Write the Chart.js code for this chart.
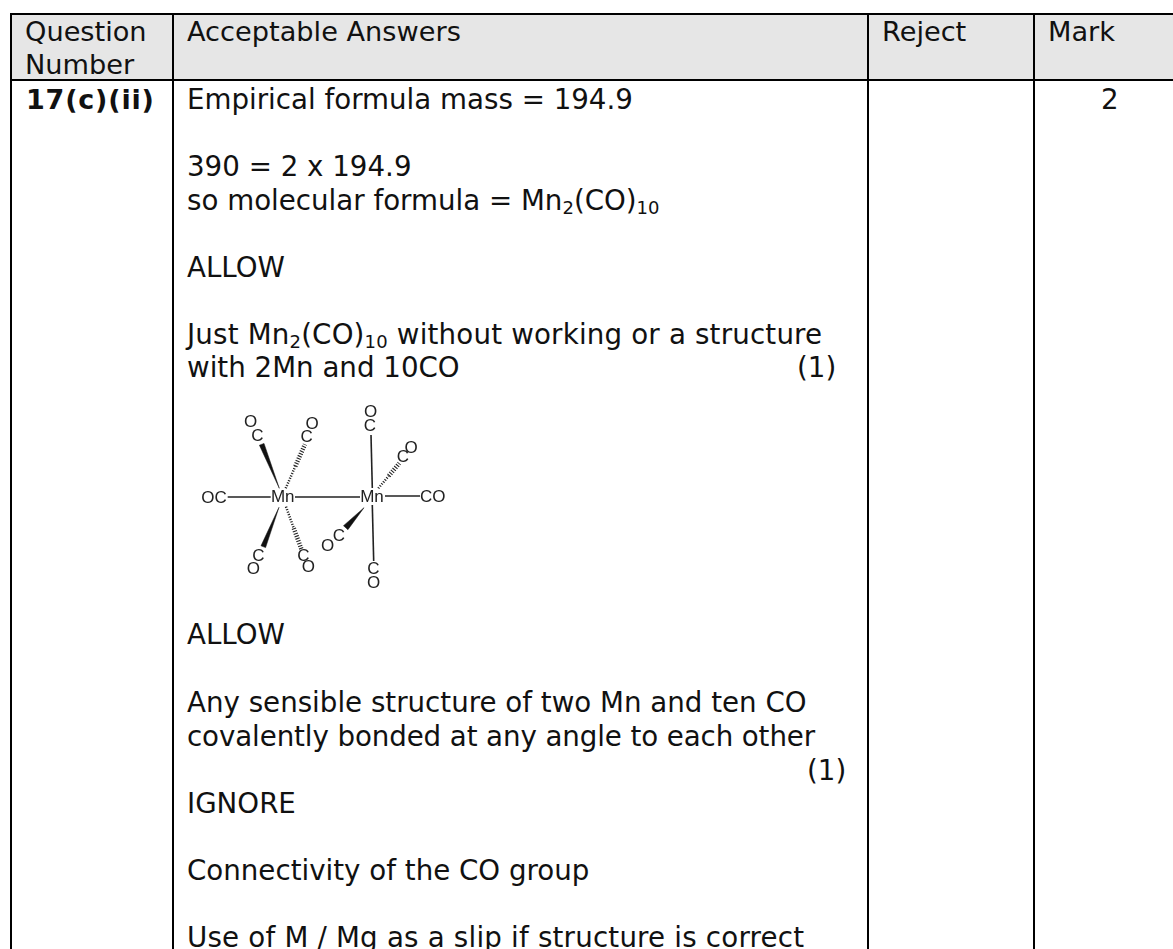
<!DOCTYPE html>
<html>
<head>
<meta charset="utf-8">
<script src="https://cdn.jsdelivr.net/npm/chart.js@4"></script>
<style>
  html, body { margin: 0; padding: 0; background: #fff; }
  body { position: relative; width: 1173px; height: 949px; overflow: hidden; font-family: "DejaVu Sans", sans-serif; color: #111; }
  .rule { position: absolute; background: #000; }
  .head { position: absolute; left: 12px; top: 14px; width: 1161px; height: 66px; background: #e6e6e6; }
  .t { position: absolute; font-size: 27.7px; line-height: 28px; white-space: pre; }
  .t sub { font-size: 18px; line-height: 0; vertical-align: -4px; }
  .h { font-size: 27.2px; }
  .b { font-size: 27px; font-weight: bold; letter-spacing: 0.8px; }
  #mol { position: absolute; left: 160px; top: 395px; width: 310px; height: 200px; filter: blur(0.35px); }
</style>
</head>
<body>
<div class="head"></div>
<div class="rule" style="left:10px;top:13px;width:1163px;height:2px"></div>
<div class="rule" style="left:10px;top:79px;width:1163px;height:2px"></div>
<div class="rule" style="left:10px;top:13px;width:2px;height:936px"></div>
<div class="rule" style="left:172px;top:13px;width:2px;height:936px"></div>
<div class="rule" style="left:867px;top:13px;width:2px;height:936px"></div>
<div class="rule" style="left:1033px;top:13px;width:2px;height:936px"></div>

<div class="t h" style="left:25px;top:18px">Question</div>
<div class="t h" style="left:25px;top:51px">Number</div>
<div class="t h" style="left:187px;top:18px">Acceptable Answers</div>
<div class="t h" style="left:882px;top:18px">Reject</div>
<div class="t h" style="left:1048px;top:18px">Mark</div>

<div class="t b" style="left:26px;top:86px">17(c)(ii)</div>
<div class="t" style="left:1101px;top:86px">2</div>
<div class="t" style="left:187px;top:86px">Empirical formula mass = 194.9</div>
<div class="t" style="left:187px;top:153px">390 = 2 x 194.9</div>
<div class="t" style="left:187px;top:187px">so molecular formula = Mn<sub>2</sub>(CO)<sub>10</sub></div>
<div class="t" style="left:187px;top:254px">ALLOW</div>
<div class="t" style="left:187px;top:321px;letter-spacing:0.18px">Just Mn<sub>2</sub>(CO)<sub>10</sub> without working or a structure</div>
<div class="t" style="left:187px;top:354px">with 2Mn and 10CO</div>
<div class="t" style="left:797px;top:354px">(1)</div>
<div class="t" style="left:187px;top:621px">ALLOW</div>
<div class="t" style="left:187px;top:689px">Any sensible structure of two Mn and ten CO</div>
<div class="t" style="left:187px;top:723px;letter-spacing:-0.1px">covalently bonded at any angle to each other</div>
<div class="t" style="left:807px;top:757px">(1)</div>
<div class="t" style="left:187px;top:790px">IGNORE</div>
<div class="t" style="left:187px;top:857px">Connectivity of the CO group</div>
<div class="t" style="left:187px;top:924px;letter-spacing:0.2px">Use of M / Mg as a slip if structure is correct</div>

<canvas id="mol" width="310" height="200"></canvas>

<script>
// plain bonds, [x, y]
const plainBonds = [
  [[227.7, 497], [270.7, 497]],
  [[295, 497], [360, 497]],
  [[385, 496], [420, 496]],
  [[371, 435], [372.3, 488]],
  [[372.3, 505], [373.7, 561]]
];
// wedge bonds: tip, wide corner, wide corner
const wedgeBonds = [
  [[279.3, 488.3], [264, 443.4], [259.4, 445.2]],
  [[279, 507.3], [265.6, 547.6], [261, 545.8]],
  [[364, 507.7], [347.9, 529.7], [343.5, 525.7]]
];
// hashed bonds: start, middle, end
const hashBonds = [
  [[285.7, 488.3], [295.3, 466.3], [305, 444.3]],
  [[286, 506.7], [293.8, 528.3], [301.7, 550]],
  [[378.3, 488.3], [388.8, 475.8], [399.3, 463.3]]
];
const atomLabels = ['Mn', 'Mn', 'OC', 'CO', 'C', 'O', 'C', 'O', 'C', 'O', 'C', 'O', 'C', 'O', 'C', 'O', 'C', 'O', 'C', 'O'];
const atomX = [282.7, 372, 214, 432.7, 257.3, 250.7, 306.7, 312, 258.3, 253.3, 303.3, 308.3, 370, 370.7, 373.3, 373.7, 403, 411, 339, 327.7];
const atomY = [497, 497, 497.7, 497, 435.7, 421.7, 436.7, 423.7, 555.7, 569.3, 555.7, 567.3, 426, 411.7, 569, 582.7, 457, 448, 536, 545.7];

const toPoints = pts => pts.map(p => ({ x: p[0], y: p[1] }));
const ink = '#222';

const datasets = [];
plainBonds.forEach(b => datasets.push({
  data: toPoints(b), borderColor: ink, borderWidth: 1.6, pointRadius: 0, showLine: true
}));
wedgeBonds.forEach(b => datasets.push({
  data: toPoints(b.concat([b[0]])), borderColor: '#111', backgroundColor: '#111',
  borderWidth: 0.5, pointRadius: 0, showLine: true, fill: 'shape'
}));
hashBonds.forEach(b => datasets.push({
  data: toPoints(b), borderColor: ink, pointRadius: 0, showLine: true, borderWidth: 3,
  borderDash: [1.1, 1.5], borderCapStyle: 'butt',
  segment: { borderWidth: ctx => ctx.p0DataIndex === 0 ? 2.5 : 4.5 }
}));

const atomLabelPlugin = {
  id: 'atomLabels',
  afterDatasetsDraw(chart) {
    const { ctx, scales } = chart;
    ctx.save();
    ctx.font = '17px "Liberation Sans", Arial, sans-serif';
    ctx.fillStyle = ink;
    ctx.textAlign = 'center';
    ctx.textBaseline = 'middle';
    atomLabels.forEach((label, i) => {
      ctx.fillText(label, scales.x.getPixelForValue(atomX[i]), scales.y.getPixelForValue(atomY[i]) + 0.5);
    });
    ctx.restore();
  }
};

new Chart(document.getElementById('mol'), {
  type: 'scatter',
  data: { datasets },
  options: {
    responsive: false,
    animation: false,
    layout: { padding: 0 },
    plugins: { legend: { display: false }, tooltip: { enabled: false }, filler: { propagate: false } },
    scales: {
      x: { type: 'linear', min: 160, max: 470, display: false },
      y: { type: 'linear', min: 395, max: 595, reverse: true, display: false }
    }
  },
  plugins: [atomLabelPlugin]
});
</script>
</body>
</html>
